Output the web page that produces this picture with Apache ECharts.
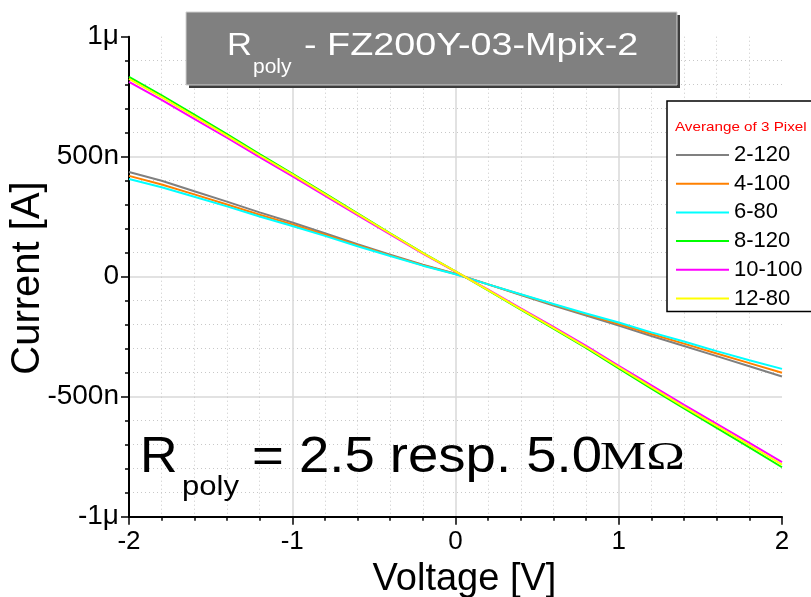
<!DOCTYPE html>
<html>
<head>
<meta charset="utf-8">
<script src="https://cdn.jsdelivr.net/npm/echarts@6/dist/echarts.min.js"></script>
<style>
  html, body { margin: 0; padding: 0; background: #fff; }
  #chart { width: 811px; height: 597px; }
</style>
</head>
<body>
<div id="chart"></div>
<script>
// voltage steps (V)
const voltage = [-2.0, -1.8, -1.6, -1.4, -1.2, -1.0, -0.8, -0.6, -0.4, -0.2, 0.0,
  0.2, 0.4, 0.6, 0.8, 1.0, 1.2, 1.4, 1.6, 1.8, 2.0];

// currents in nA
const s2_120 = [436, 400, 356, 313, 268, 226, 181, 135, 92, 50, 12,
  -32, -76, -120, -162, -204, -247, -289, -331, -373, -416];
const s4_100 = [420, 384, 343, 301, 258, 218, 175, 131, 89, 48, 11,
  -32, -74, -116, -157, -197, -239, -279, -320, -360, -400];
const s6_80 = [407, 373, 333, 293, 251, 211, 170, 127, 86, 46, 10,
  -32, -73, -114, -153, -191, -232, -270, -310, -348, -384];
const s8_120 = [833, 756, 675, 594, 511, 430, 347, 264, 181, 99, 22,
  -57, -137, -216, -297, -382, -466, -549, -630, -711, -794];
const s10_100 = [812, 737, 658, 579, 498, 419, 338, 257, 176, 96, 21,
  -54, -132, -209, -288, -371, -453, -534, -613, -692, -773];
const s12_80 = [824, 748, 668, 588, 506, 426, 344, 262, 180, 98, 22,
  -56, -135, -213, -293, -377, -460, -542, -622, -702, -783];

const seriesNames = ["2-120", "4-100", "6-80", "8-120", "10-100", "12-80"];
const seriesValues = [s2_120, s4_100, s6_80, s8_120, s10_100, s12_80];
const colors = ["#808080", "#ff8000", "#00ffff", "#00ff00", "#ff00ff", "#ffff00"];

const yTickValues = [-1000, -500, 0, 500, 1000];
const yTickLabels = ["-1\u03bc", "-500n", "0", "500n", "1\u03bc"];

const FONT = "Liberation Sans";

const chart = echarts.init(document.getElementById("chart"));

// a text element that can be stretched sideways
function label(x, y, text, font, fill, sx, z) {
  return {
    type: "text",
    x,
    y,
    scaleX: sx,
    z,
    style: { x: 0, y: 0, text, font, fill, verticalAlign: "middle" },
  };
}

const option = {
  animation: false,
  backgroundColor: "#fff",
  grid: {
    left: 129,
    right: 29,
    top: 36.7,
    bottom: 80.3,
    outerBoundsMode: "none",
    containLabel: false,
  },
  legend: {
    orient: "vertical",
    left: 667,
    top: 101,
    backgroundColor: "#fff",
    borderColor: "#000",
    borderWidth: 1.5,
    borderRadius: 0,
    padding: [43, 30, 2, 8],
    itemWidth: 53,
    itemHeight: 14,
    itemGap: 6.7,
    itemStyle: { opacity: 0 },
    textStyle: {
      fontFamily: FONT,
      fontSize: 22,
      lineHeight: 22,
      color: "#000",
    },
    data: seriesNames,
  },
  xAxis: {
    type: "value",
    min: -2,
    max: 2,
    interval: 1,
    name: "Voltage [V]",
    nameLocation: "middle",
    nameGap: 44,
    nameTextStyle: { fontFamily: FONT, fontSize: 38, color: "#000", padding: [0, 0, 0, 18] },
    axisLine: { onZero: false, lineStyle: { color: "#000", width: 2 } },
    axisTick: { length: 8, lineStyle: { color: "#000", width: 1.5 } },
    minorTick: { show: true, splitNumber: 5, length: 4, lineStyle: { color: "#000", width: 1.5 } },
    axisLabel: { fontFamily: FONT, fontSize: 26, color: "#000", margin: 12 },
    splitLine: { show: true, showMinLine: false, showMaxLine: false, lineStyle: { color: "#d9d9d9", width: 1.5 } },
    minorSplitLine: { show: true, lineStyle: { color: "#c8c8c8", width: 1, type: [1, 3] } },
  },
  yAxis: {
    type: "value",
    min: -1000,
    max: 1000,
    interval: 500,
    axisLine: { show: true, onZero: false, lineStyle: { color: "#000", width: 2 } },
    axisTick: { show: true, length: 8, lineStyle: { color: "#000", width: 1.5 } },
    minorTick: { show: true, splitNumber: 5, length: 4, lineStyle: { color: "#000", width: 1.5 } },
    axisLabel: {
      fontFamily: FONT,
      fontSize: 28,
      color: "#000",
      margin: 10,
      formatter: (v) => yTickLabels[yTickValues.indexOf(v)],
    },
    splitLine: { show: true, showMinLine: false, showMaxLine: false, lineStyle: { color: "#d9d9d9", width: 1.5 } },
    minorSplitLine: { show: true, lineStyle: { color: "#c8c8c8", width: 1, type: [1, 3] } },
  },
  series: seriesNames.map((name, i) => ({
    name,
    type: "line",
    symbol: "none",
    color: colors[i],
    lineStyle: { width: 2, color: colors[i] },
    data: voltage.map((v, k) => [v, seriesValues[i][k]]),
  })),
  graphic: [
    // y axis title, drawn by hand so it sits where the original has it
    {
      type: "text",
      x: 28,
      y: 278,
      rotation: Math.PI / 2,
      style: {
        text: "Current [A]",
        font: "40px " + FONT,
        fill: "#000",
        align: "center",
        verticalAlign: "middle",
      },
    },
    // legend caption
    label(675, 127, "Averange of 3 Pixel", "13px " + FONT, "#ff0000", 1.17, 200),
    // title box
    { type: "rect", shape: { x: 189, y: 15, width: 491, height: 73 }, style: { fill: "#3c3c3c" }, z: 100 },
    { type: "rect", shape: { x: 186, y: 12, width: 491, height: 73 }, style: { fill: "#808080", stroke: "#d0d0d0", lineWidth: 1 }, z: 101 },
    label(227, 46, "R", "32px " + FONT, "#fff", 1.08, 102),
    label(253, 67, "poly", "20px " + FONT, "#fff", 1.05, 102),
    label(304, 46, "- FZ200Y-03-Mpix-2", "32px " + FONT, "#fff", 1.18, 102),
    // resistance annotation
    label(140, 458, "R", "50px " + FONT, "#000", 1.04, 90),
    label(182, 488, "poly", "27px " + FONT, "#000", 1.15, 90),
    label(252, 458, "= 2.5 resp. 5.0", "50px " + FONT, "#000", 1.09, 90),
    label(600, 458, "M\u03a9", "40px Liberation Serif", "#000", 1.3, 90),
  ],
};

chart.setOption(option);
</script>
</body>
</html>
